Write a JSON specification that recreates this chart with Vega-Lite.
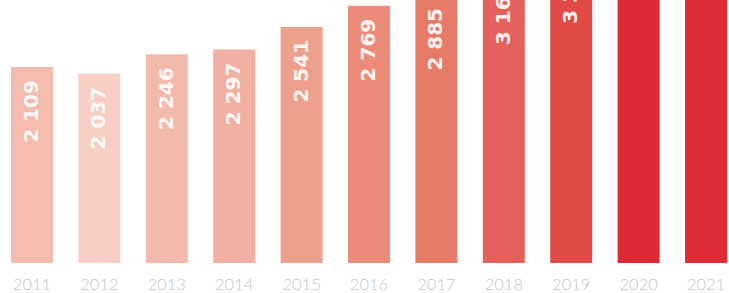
{
  "$schema": "https://vega.github.io/schema/vega-lite/v6.json",
  "width": 729,
  "height": 263,
  "padding": {"top": 0, "left": 0, "right": 0, "bottom": 30},
  "autosize": {"type": "none"},
  "background": "white",
  "config": {"view": {"stroke": null}},
  "data": {"values": [
    {"year": "2011", "value": 2109, "label": "2 109"},
    {"year": "2012", "value": 2037, "label": "2 037"},
    {"year": "2013", "value": 2246, "label": "2 246"},
    {"year": "2014", "value": 2297, "label": "2 297"},
    {"year": "2015", "value": 2541, "label": "2 541"},
    {"year": "2016", "value": 2769, "label": "2 769"},
    {"year": "2017", "value": 2885, "label": "2 885"},
    {"year": "2018", "value": 3160, "label": "3 160"},
    {"year": "2019", "value": 3390, "label": "3 390"},
    {"year": "2020", "value": 3750, "label": "3 750"},
    {"year": "2021", "value": 3950, "label": "3 950"}
  ]},
  "encoding": {
    "x": {"field": "year", "type": "ordinal", "sort": null,
      "scale": {"range": [0, 738], "paddingInner": 0.377, "paddingOuter": 0.163},
      "axis": {"title": null, "domain": false, "ticks": false, "labelAngle": 0,
        "labelColor": "#c6c6c6", "labelFont": "Lato", "labelFontWeight": 300,
        "labelFontSize": 16.5, "labelPadding": 13}},
    "y": {"field": "value", "type": "quantitative",
      "scale": {"domain": [0, 2831], "nice": false, "zero": true},
      "axis": null}
  },
  "layer": [
    {"mark": {"type": "bar", "clip": true},
     "encoding": {"color": {"field": "year", "type": "ordinal", "legend": null,
       "scale": {"domain": ["2011","2012","2013","2014","2015","2016","2017","2018","2019","2020","2021"],
         "range": ["#f4bcae","#f6cec4","#f3b9ab","#f2b0a2","#eda08c","#ec8b78","#e87a68","#e5625a","#e04a47","#df2a34","#de2d35"]}}}},
    {"mark": {"type": "text", "clip": true, "angle": 270, "align": "right", "baseline": "middle",
       "dx": -13, "font": "DejaVu Sans", "fontWeight": "bold", "fontSize": 20, "color": "#ffffff", "opacity": 0.9},
     "encoding": {"text": {"field": "label"}}}
  ]
}
